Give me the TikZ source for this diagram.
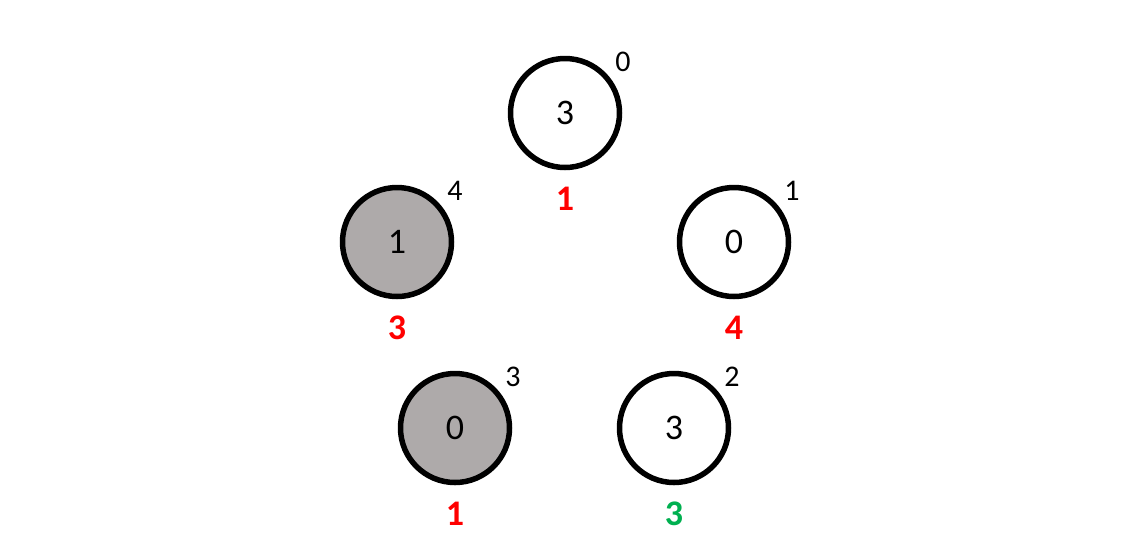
\documentclass[tikz,border=0pt]{standalone}
\usepackage{fontspec}
\setmainfont{Carlito}
\definecolor{nodegray}{HTML}{AEAAAA}
\definecolor{redlab}{HTML}{FF0000}
\definecolor{greenlab}{HTML}{00B050}
\begin{document}
\begin{tikzpicture}[x=1pt,y=-1pt,
  vert/.style={circle,draw=black,line width=5.5pt,minimum size=109pt,inner sep=0pt,font=\fontsize{36}{40}\selectfont},
  grayvert/.style={vert,fill=nodegray},
  idx/.style={font=\fontsize{30}{34}\selectfont},
  val/.style={font=\fontsize{36}{40}\selectfont\bfseries}]
\useasboundingbox (0,0) rectangle (1130,558);
\node[vert] (n0) at (565,113) {3};
\node[vert] (n1) at (734,242) {0};
\node[vert] (n2) at (674,428) {3};
\node[grayvert] (n3) at (455,428) {0};
\node[grayvert] (n4) at (397,242) {1};
\node[idx] (i0) at ([shift={(58,-51)}]n0.center) {0};
\node[idx] (i1) at ([shift={(58,-51)}]n1.center) {1};
\node[idx] (i2) at ([shift={(58,-51)}]n2.center) {2};
\node[idx] (i3) at ([shift={(58,-51)}]n3.center) {3};
\node[idx] (i4) at ([shift={(58,-51)}]n4.center) {4};
\node[val,text=redlab] (v0) at ([shift={(0,86)}]n0.center) {1};
\node[val,text=redlab] (v1) at ([shift={(0,86)}]n1.center) {4};
\node[val,text=greenlab] (v2) at ([shift={(0,86)}]n2.center) {3};
\node[val,text=redlab] (v3) at ([shift={(0,86)}]n3.center) {1};
\node[val,text=redlab] (v4) at ([shift={(0,86)}]n4.center) {3};
\end{tikzpicture}
\end{document}
